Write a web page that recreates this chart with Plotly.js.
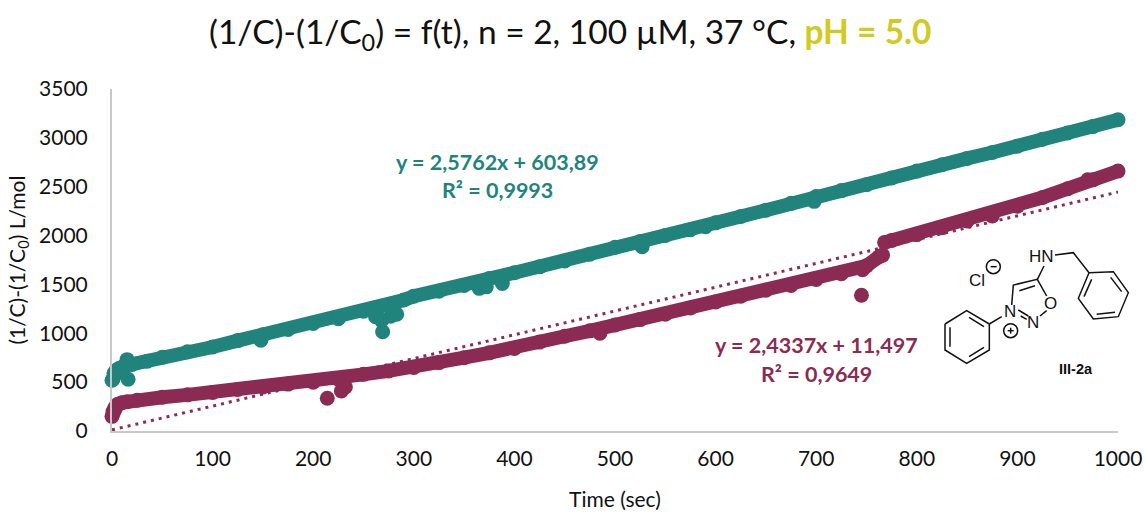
<!DOCTYPE html>
<html><head><meta charset="utf-8">
<script src="https://cdn.plot.ly/plotly-3.0.1.min.js"></script>
<style>html,body{margin:0;padding:0;background:#fff}#c{width:1145px;height:516px}</style>
</head><body><div id="c"></div>
<script>
const tealTime=[0,2,4,7,12,20,35,50,75,100,125,150,175,200,225,250,265,280,290,300,325,350,375,400,425,450,475,500,525,550,575,600,625,650,675,700,725,750,775,800,825,850,875,900,925,950,975,1000];
const tealVal=[520,590,620,640,665,680,715,755,810,860,925,985,1040,1100,1150,1225,1260,1280,1340,1380,1430,1490,1560,1620,1680,1740,1810,1880,1940,2000,2060,2130,2195,2260,2330,2400,2460,2520,2590,2660,2725,2790,2850,2915,2985,3050,3115,3185];
const tealOutTime=[1,15,16,148,262,268,269,277,283,365,372,388,527,590,698];
const tealOutVal=[530,730,530,930,1170,1130,1015,1175,1195,1460,1475,1510,1885,2090,2350];
const pinkTime=[0,1,3,6,10,15,25,50,75,100,125,150,175,200,225,250,275,300,325,350,375,400,425,450,475,500,525,550,575,600,625,650,675,700,725,750,762,766];
const pinkVal=[150,200,240,275,290,300,315,345,370,395,425,450,480,500,530,580,615,650,700,750,800,845,910,970,1025,1085,1140,1195,1260,1320,1380,1440,1490,1550,1610,1690,1780,1800];
const pinkLateTime=[768,775,800,825,850,875,900,925,950,975,1000];
const pinkLateVal=[1930,1950,2010,2080,2150,2220,2300,2390,2480,2570,2660];
const pinkOutTime=[214,228,232,485,745,746,875,970];
const pinkOutVal=[335,410,450,1000,1390,1650,2200,2570];
const trendTime=[0,1000];
const trendVal=[11.497,2445.2];
const xTicks=[0,100,200,300,400,500,600,700,800,900,1000];
const yTicks=[0,500,1000,1500,2000,2500,3000,3500];
const teal='#20837c', pink='#8b2b53', ff='Lato, Carlito, sans-serif';
const W=1145,H=516,L=112,R=1118,T=89,B=431;
const PX=x=>(x-L)/(R-L), PY=y=>(B-y)/(B-T);
const zx=v=>900+v/3, zy=v=>220+v/3;
function seg(pts){return pts.map((p,i)=>(i?'L':'M')+PX(zx(p[0])).toFixed(5)+','+PY(zy(p[1])).toFixed(5)).join(' ');}
const bonds=[
 [[135,312],[200,272],[268,312],[268,390],[200,430],[135,390],[135,312]],
 [[150,322],[150,380]],[[207,292],[252,320]],[[207,410],[252,382]],
 [[268,312],[305,290]],
 [[335,255],[340,195],[412,178],[440,228]],[[358,212],[405,197]],
 [[412,178],[432,138]],[[440,272],[420,288]],
 [[355,270],[385,288]],[[362,288],[380,298]],
 [[465,105],[520,98],[567,158],[640,155],[685,218],[655,290],[580,297],[535,235],[567,158]],
 [[575,178],[552,230]],[[590,283],[645,277]],[[632,172],[665,215]],
 [[272,140],[290,140]],[[323,332],[341,332]],[[332,323],[332,341]]
];
const shapes=bonds.map(b=>({type:'path',xref:'paper',yref:'paper',path:seg(b),line:{color:'#111',width:1.5},fillcolor:'rgba(0,0,0,0)'}));
[[280,140],[332,332]].forEach(c=>{shapes.push({type:'circle',xref:'paper',yref:'paper',x0:PX(zx(c[0]-21)),x1:PX(zx(c[0]+21)),y0:PY(zy(c[1]+21)),y1:PY(zy(c[1]-21)),line:{color:'#111',width:1.5}});});
function note(x,y,text,size,color,family){return {xref:'paper',yref:'paper',x:PX(x),y:PY(y),text,showarrow:false,xanchor:'center',yanchor:'middle',font:{size,color,family:family||ff}};}
const arial='Liberation Sans, Arial, sans-serif';
const annotations=[
 note(497,162,'<b>y = 2,5762x + 603,89</b>',21.5,teal),
 note(497,190,'<b>R² = 0,9993</b>',21.5,teal),
 note(816,345,'<b>y = 2,4337x + 11,497</b>',21.5,pink),
 note(816,374,'<b>R² = 0,9649</b>',21.5,pink),
 note(zx(425),zy(110),'HN',17,'#111',arial),
 note(zx(232),zy(182),'Cl',17,'#111',arial),
 note(zx(330),zy(275),'N',17,'#111',arial),
 note(zx(400),zy(308),'N',17,'#111',arial),
 note(zx(452),zy(250),'O',17,'#111',arial),
 note(zx(527),zy(448),'<b>III-2a</b>',14.5,'#111',arial),
 note(570,33,'(1/C)-(1/C<sub>0</sub>) = f(t), n = 2, 100 µM, 37 °C, <b><span style="color:#cfcb1f">pH = 5.0</span></b>',33.5,'#111')
];
const ms=15;
const data=[
 {x:trendTime,y:trendVal,mode:'lines',line:{color:pink,width:3,dash:'3px,5px'}},
 {x:tealTime,y:tealVal,mode:'lines+markers',line:{color:teal,width:14},marker:{color:teal,size:ms}},
 {x:tealOutTime,y:tealOutVal,mode:'markers',marker:{color:teal,size:ms}},
 {x:pinkTime,y:pinkVal,mode:'lines+markers',line:{color:pink,width:14},marker:{color:pink,size:ms}},
 {x:pinkLateTime,y:pinkLateVal,mode:'lines+markers',line:{color:pink,width:14},marker:{color:pink,size:ms}},
 {x:pinkOutTime,y:pinkOutVal,mode:'markers',marker:{color:pink,size:ms}}
];
data.forEach(d=>d.cliponaxis=false);
const layout={width:W,height:H,showlegend:false,paper_bgcolor:'#fff',plot_bgcolor:'#fff',
 margin:{l:L,r:W-R,t:T,b:H-B},font:{family:ff,color:'#111',size:21},
 xaxis:{range:[0,1000],tickvals:xTicks,ticks:'',showgrid:false,zeroline:false,showline:true,linecolor:'#c8c8c8',linewidth:2,
  tickfont:{size:21},ticklabelstandoff:8,title:{text:'Time (sec)',font:{size:21},standoff:23}},
 yaxis:{range:[0,3500],tickvals:yTicks,ticks:'',showgrid:false,zeroline:false,showline:true,linecolor:'#c8c8c8',linewidth:2,
  tickfont:{size:21},ticklabelstandoff:18,title:{text:'(1/C)-(1/C<sub>0</sub>) L/mol',font:{size:21},standoff:8}},
 shapes,annotations};
Plotly.newPlot('c',data,layout,{displayModeBar:false,staticPlot:true});
</script></body></html>
